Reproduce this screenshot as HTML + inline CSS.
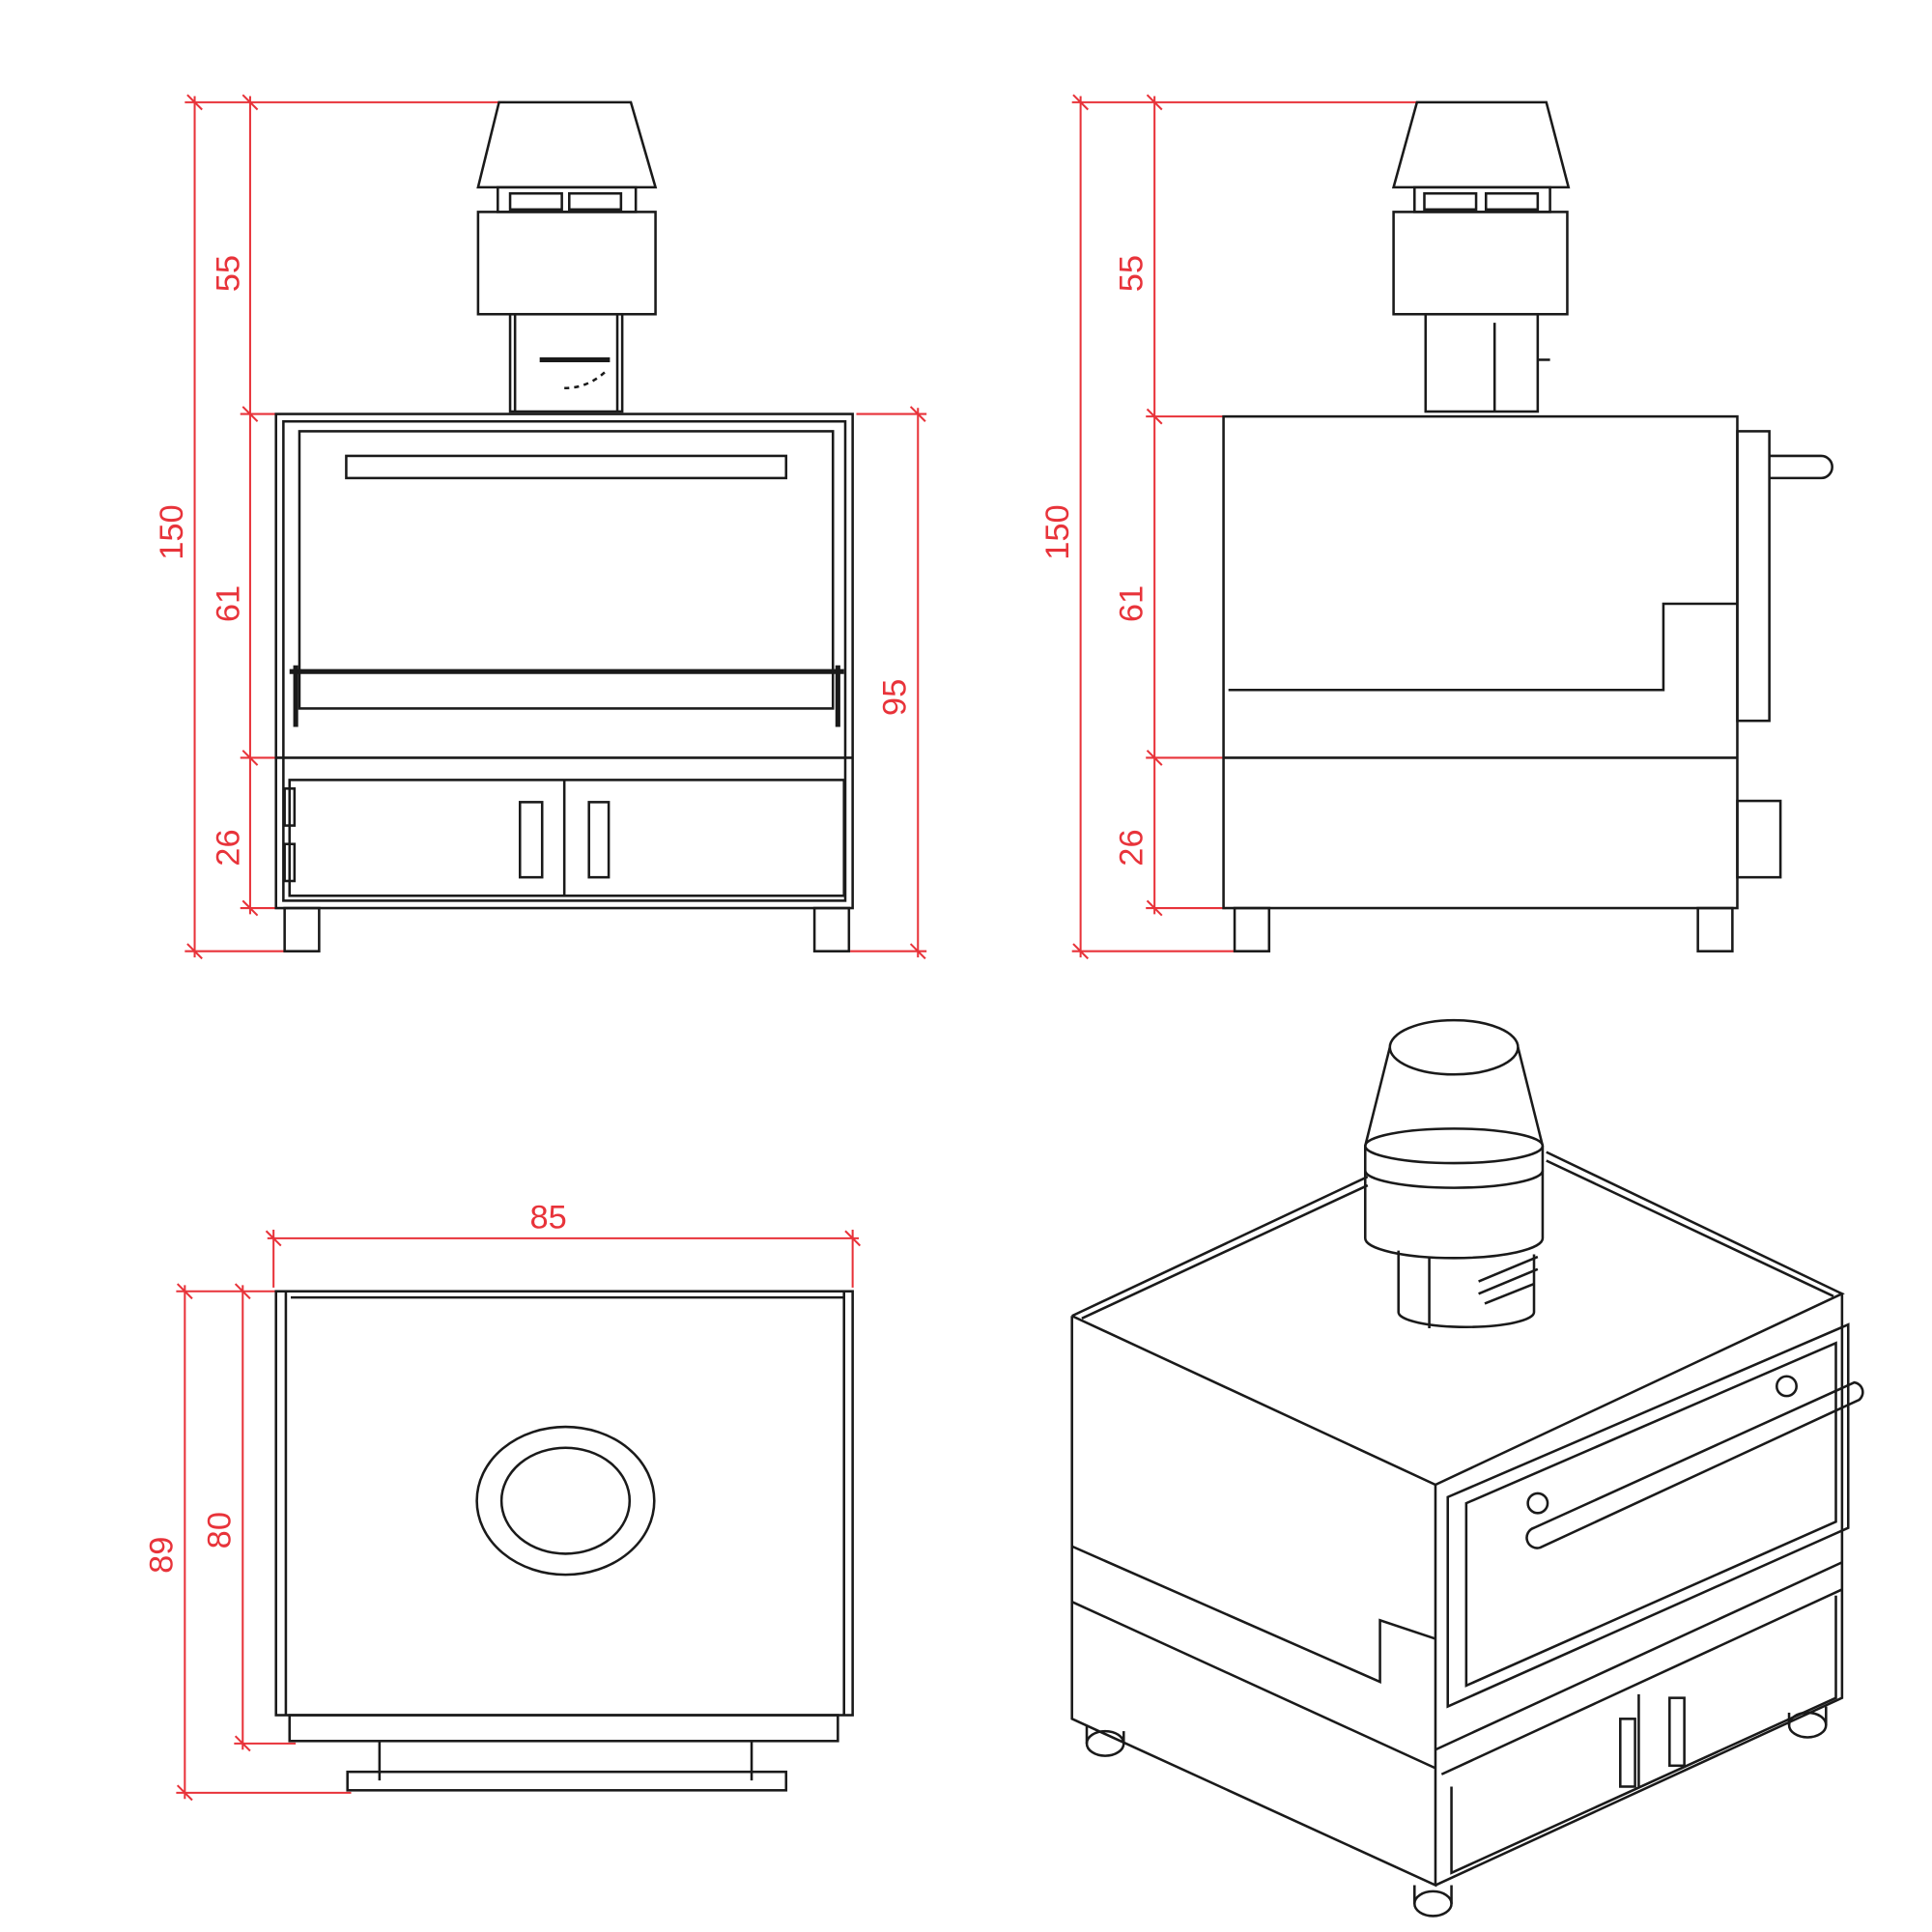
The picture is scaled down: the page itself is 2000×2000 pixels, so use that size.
<!DOCTYPE html>
<html><head><meta charset="utf-8"><style>
html,body{margin:0;padding:0;background:#fff}
svg{display:block}
.k{fill:none;stroke:#1a1a1a;stroke-width:2}
.k3{fill:none;stroke:#1a1a1a;stroke-width:4}
.r{fill:none;stroke:#e8333a;stroke-width:1.6}
.t{fill:#e8333a;font-family:"Liberation Sans",sans-serif;font-size:27px}
</style></head><body>
<svg width="2000" height="2000" viewBox="0 0 1568 1568" xmlns="http://www.w3.org/2000/svg">
<rect width="1568" height="1568" fill="#fff"/>
<!-- ===== FRONT VIEW ===== -->
<g class="r">
<line x1="158" y1="78" x2="158" y2="777"/>
<line x1="203" y1="78" x2="203" y2="742"/>
<line x1="745" y1="331" x2="745" y2="777"/>
<line x1="150" y1="83" x2="410" y2="83"/>
<line x1="195" y1="336" x2="228" y2="336"/>
<line x1="195" y1="615" x2="228" y2="615"/>
<line x1="195" y1="737" x2="230" y2="737"/>
<line x1="150" y1="772" x2="235" y2="772"/>
<line x1="695" y1="336" x2="752" y2="336"/>
<line x1="690" y1="772" x2="752" y2="772"/>
<path d="M152 77l12 12M197 77l12 12M197 330l12 12M197 609l12 12M197 731l12 12M152 766l12 12M739 330l12 12M739 766l12 12"/>
</g>
<text class="t" transform="translate(194,222) rotate(-90)" text-anchor="middle">55</text>
<text class="t" transform="translate(148,432) rotate(-90)" text-anchor="middle">150</text>
<text class="t" transform="translate(194,490) rotate(-90)" text-anchor="middle">61</text>
<text class="t" transform="translate(194,688) rotate(-90)" text-anchor="middle">26</text>
<text class="t" transform="translate(735,566) rotate(-90)" text-anchor="middle">95</text>
<g class="k">
<path d="M405 83H512L532 152H388Z"/>
<rect x="404" y="152" width="112" height="20"/>
<rect x="414" y="157" width="42" height="13"/><rect x="462" y="157" width="42" height="13"/>
<rect x="388" y="172" width="144" height="83"/>
<rect x="414" y="255" width="91" height="79"/>
<line x1="418" y1="255" x2="418" y2="334"/><line x1="501" y1="255" x2="501" y2="334"/>
<line x1="438" y1="292" x2="495" y2="292" class="k3"/>
<path d="M458 315q20 0 35-15" stroke-dasharray="4 4"/>
<rect x="224" y="336" width="468" height="401"/>
<rect x="230" y="342" width="456" height="389"/>
<rect x="243" y="350" width="433" height="225"/>
<rect x="281" y="370" width="357" height="18"/>
<line x1="235" y1="545" x2="685" y2="545" class="k3"/>
<line x1="240" y1="540" x2="240" y2="590" class="k3"/><line x1="680" y1="540" x2="680" y2="590" class="k3"/>
<line x1="224" y1="615" x2="692" y2="615"/>
<rect x="235" y="633" width="450" height="94"/>
<line x1="458" y1="633" x2="458" y2="727"/>
<rect x="422" y="651" width="18" height="61"/><rect x="478" y="651" width="16" height="61"/>
<rect x="231" y="640" width="8" height="30"/><rect x="231" y="685" width="8" height="30"/>
<rect x="231" y="737" width="28" height="35"/><rect x="661" y="737" width="28" height="35"/>
</g>
<!-- ===== SIDE VIEW ===== -->
<g class="r">
<line x1="877" y1="78" x2="877" y2="777"/>
<line x1="937" y1="78" x2="937" y2="742"/>
<line x1="870" y1="83" x2="1152" y2="83"/>
<line x1="930" y1="338" x2="995" y2="338"/>
<line x1="930" y1="615" x2="995" y2="615"/>
<line x1="930" y1="737" x2="995" y2="737"/>
<line x1="870" y1="772" x2="1005" y2="772"/>
<path d="M871 77l12 12M931 77l12 12M931 332l12 12M931 609l12 12M931 731l12 12M871 766l12 12"/>
</g>
<text class="t" transform="translate(927,222) rotate(-90)" text-anchor="middle">55</text>
<text class="t" transform="translate(867,432) rotate(-90)" text-anchor="middle">150</text>
<text class="t" transform="translate(927,490) rotate(-90)" text-anchor="middle">61</text>
<text class="t" transform="translate(927,688) rotate(-90)" text-anchor="middle">26</text>
<g class="k">
<path d="M1150 83H1255L1273 152H1131Z"/>
<rect x="1148" y="152" width="110" height="20"/>
<rect x="1156" y="157" width="42" height="13"/><rect x="1206" y="157" width="42" height="13"/>
<rect x="1131" y="172" width="141" height="83"/>
<rect x="1157" y="255" width="91" height="79"/>
<line x1="1213" y1="262" x2="1213" y2="334"/>
<path d="M1248 292h10"/>
<rect x="993" y="338" width="417" height="399"/>
<path d="M997 560H1350V490H1410"/>
<line x1="993" y1="615" x2="1410" y2="615"/>
<rect x="1410" y="350" width="26" height="235"/>
<path d="M1436 370h42a9 9 0 0 1 0 18h-42"/>
<rect x="1410" y="650" width="35" height="62"/>
<rect x="1002" y="737" width="28" height="35"/><rect x="1378" y="737" width="28" height="35"/>
</g>
<!-- ===== TOP VIEW ===== -->
<g class="r">
<line x1="217" y1="1005" x2="697" y2="1005"/>
<line x1="222" y1="998" x2="222" y2="1045"/><line x1="692" y1="998" x2="692" y2="1045"/>
<line x1="150" y1="1043" x2="150" y2="1460"/>
<line x1="197" y1="1043" x2="197" y2="1420"/>
<line x1="143" y1="1048" x2="226" y2="1048"/>
<line x1="190" y1="1415" x2="240" y2="1415"/>
<line x1="143" y1="1455" x2="285" y2="1455"/>
<path d="M216 999l12 12M686 999l12 12M144 1042l12 12M191 1042l12 12M191 1409l12 12M144 1449l12 12"/>
</g>
<text class="t" x="445" y="997" text-anchor="middle">85</text>
<text class="t" transform="translate(140,1262) rotate(-90)" text-anchor="middle">89</text>
<text class="t" transform="translate(187,1242) rotate(-90)" text-anchor="middle">80</text>
<g class="k">
<rect x="224" y="1048" width="468" height="344"/>
<line x1="232" y1="1048" x2="232" y2="1392"/><line x1="685" y1="1048" x2="685" y2="1392"/>
<line x1="236" y1="1053" x2="685" y2="1053"/>
<rect x="235" y="1392" width="445" height="21"/>
<ellipse cx="459" cy="1218" rx="72" ry="60"/>
<ellipse cx="459" cy="1218" rx="52" ry="43"/>
<rect x="282" y="1438" width="356" height="15"/>
<line x1="308" y1="1413" x2="308" y2="1445"/><line x1="610" y1="1413" x2="610" y2="1445"/>
</g>
<!-- ===== ISO VIEW ===== -->
<g class="k">
<path d="M870 1068L1110 955M1255 935L1495 1050L1165 1205L870 1068"/>
<path d="M878 1070L1110 962M1255 942L1488 1052"/>
<path d="M870 1068V1395L1165 1530V1205"/>
<path d="M1495 1050V1378L1165 1530"/>
<path d="M1175 1215L1500 1075V1240L1175 1385Z"/>
<path d="M1190 1220L1490 1090V1235L1190 1368Z"/>
<path d="M1245 1240L1505 1122a8 8 0 0 1 4 14L1250 1256a8 8 0 0 1-5-16Z"/>
<circle cx="1248" cy="1220" r="8"/><circle cx="1450" cy="1125" r="8"/>
<path d="M870 1255L1120 1365V1315L1165 1330"/>
<path d="M870 1300L1165 1435"/>
<path d="M1165 1420L1495 1268"/>
<path d="M1170 1440L1495 1290"/>
<path d="M1178 1450V1520L1490 1378V1295"/>
<line x1="1330" y1="1375" x2="1330" y2="1450"/>
<rect x="1315" y="1395" width="12" height="55"/><rect x="1355" y="1378" width="12" height="55"/>
<ellipse cx="897" cy="1415" rx="15" ry="10"/><line x1="882" y1="1400" x2="882" y2="1415"/><line x1="912" y1="1405" x2="912" y2="1415"/>
<ellipse cx="1163" cy="1545" rx="15" ry="10"/><line x1="1148" y1="1530" x2="1148" y2="1545"/><line x1="1178" y1="1530" x2="1178" y2="1545"/>
<ellipse cx="1467" cy="1400" rx="15" ry="10"/><line x1="1452" y1="1390" x2="1452" y2="1400"/><line x1="1482" y1="1385" x2="1482" y2="1400"/>
<!-- chimney -->
<ellipse cx="1180" cy="850" rx="52" ry="22"/>
<path d="M1128 850L1108 930M1232 850L1252 930"/>
<ellipse cx="1180" cy="930" rx="72" ry="14"/>
<path d="M1108 930V1005A72 16 0 0 0 1252 1005V930"/>
<path d="M1108 950A72 14 0 0 0 1252 950"/>
<path d="M1135 1015V1065A55 12 0 0 0 1245 1065V1018"/>
<line x1="1160" y1="1020" x2="1160" y2="1078"/>
<path d="M1200 1040l48-20M1200 1050l48-20M1205 1058l40-16"/>
</g>
</svg>
</body></html>
